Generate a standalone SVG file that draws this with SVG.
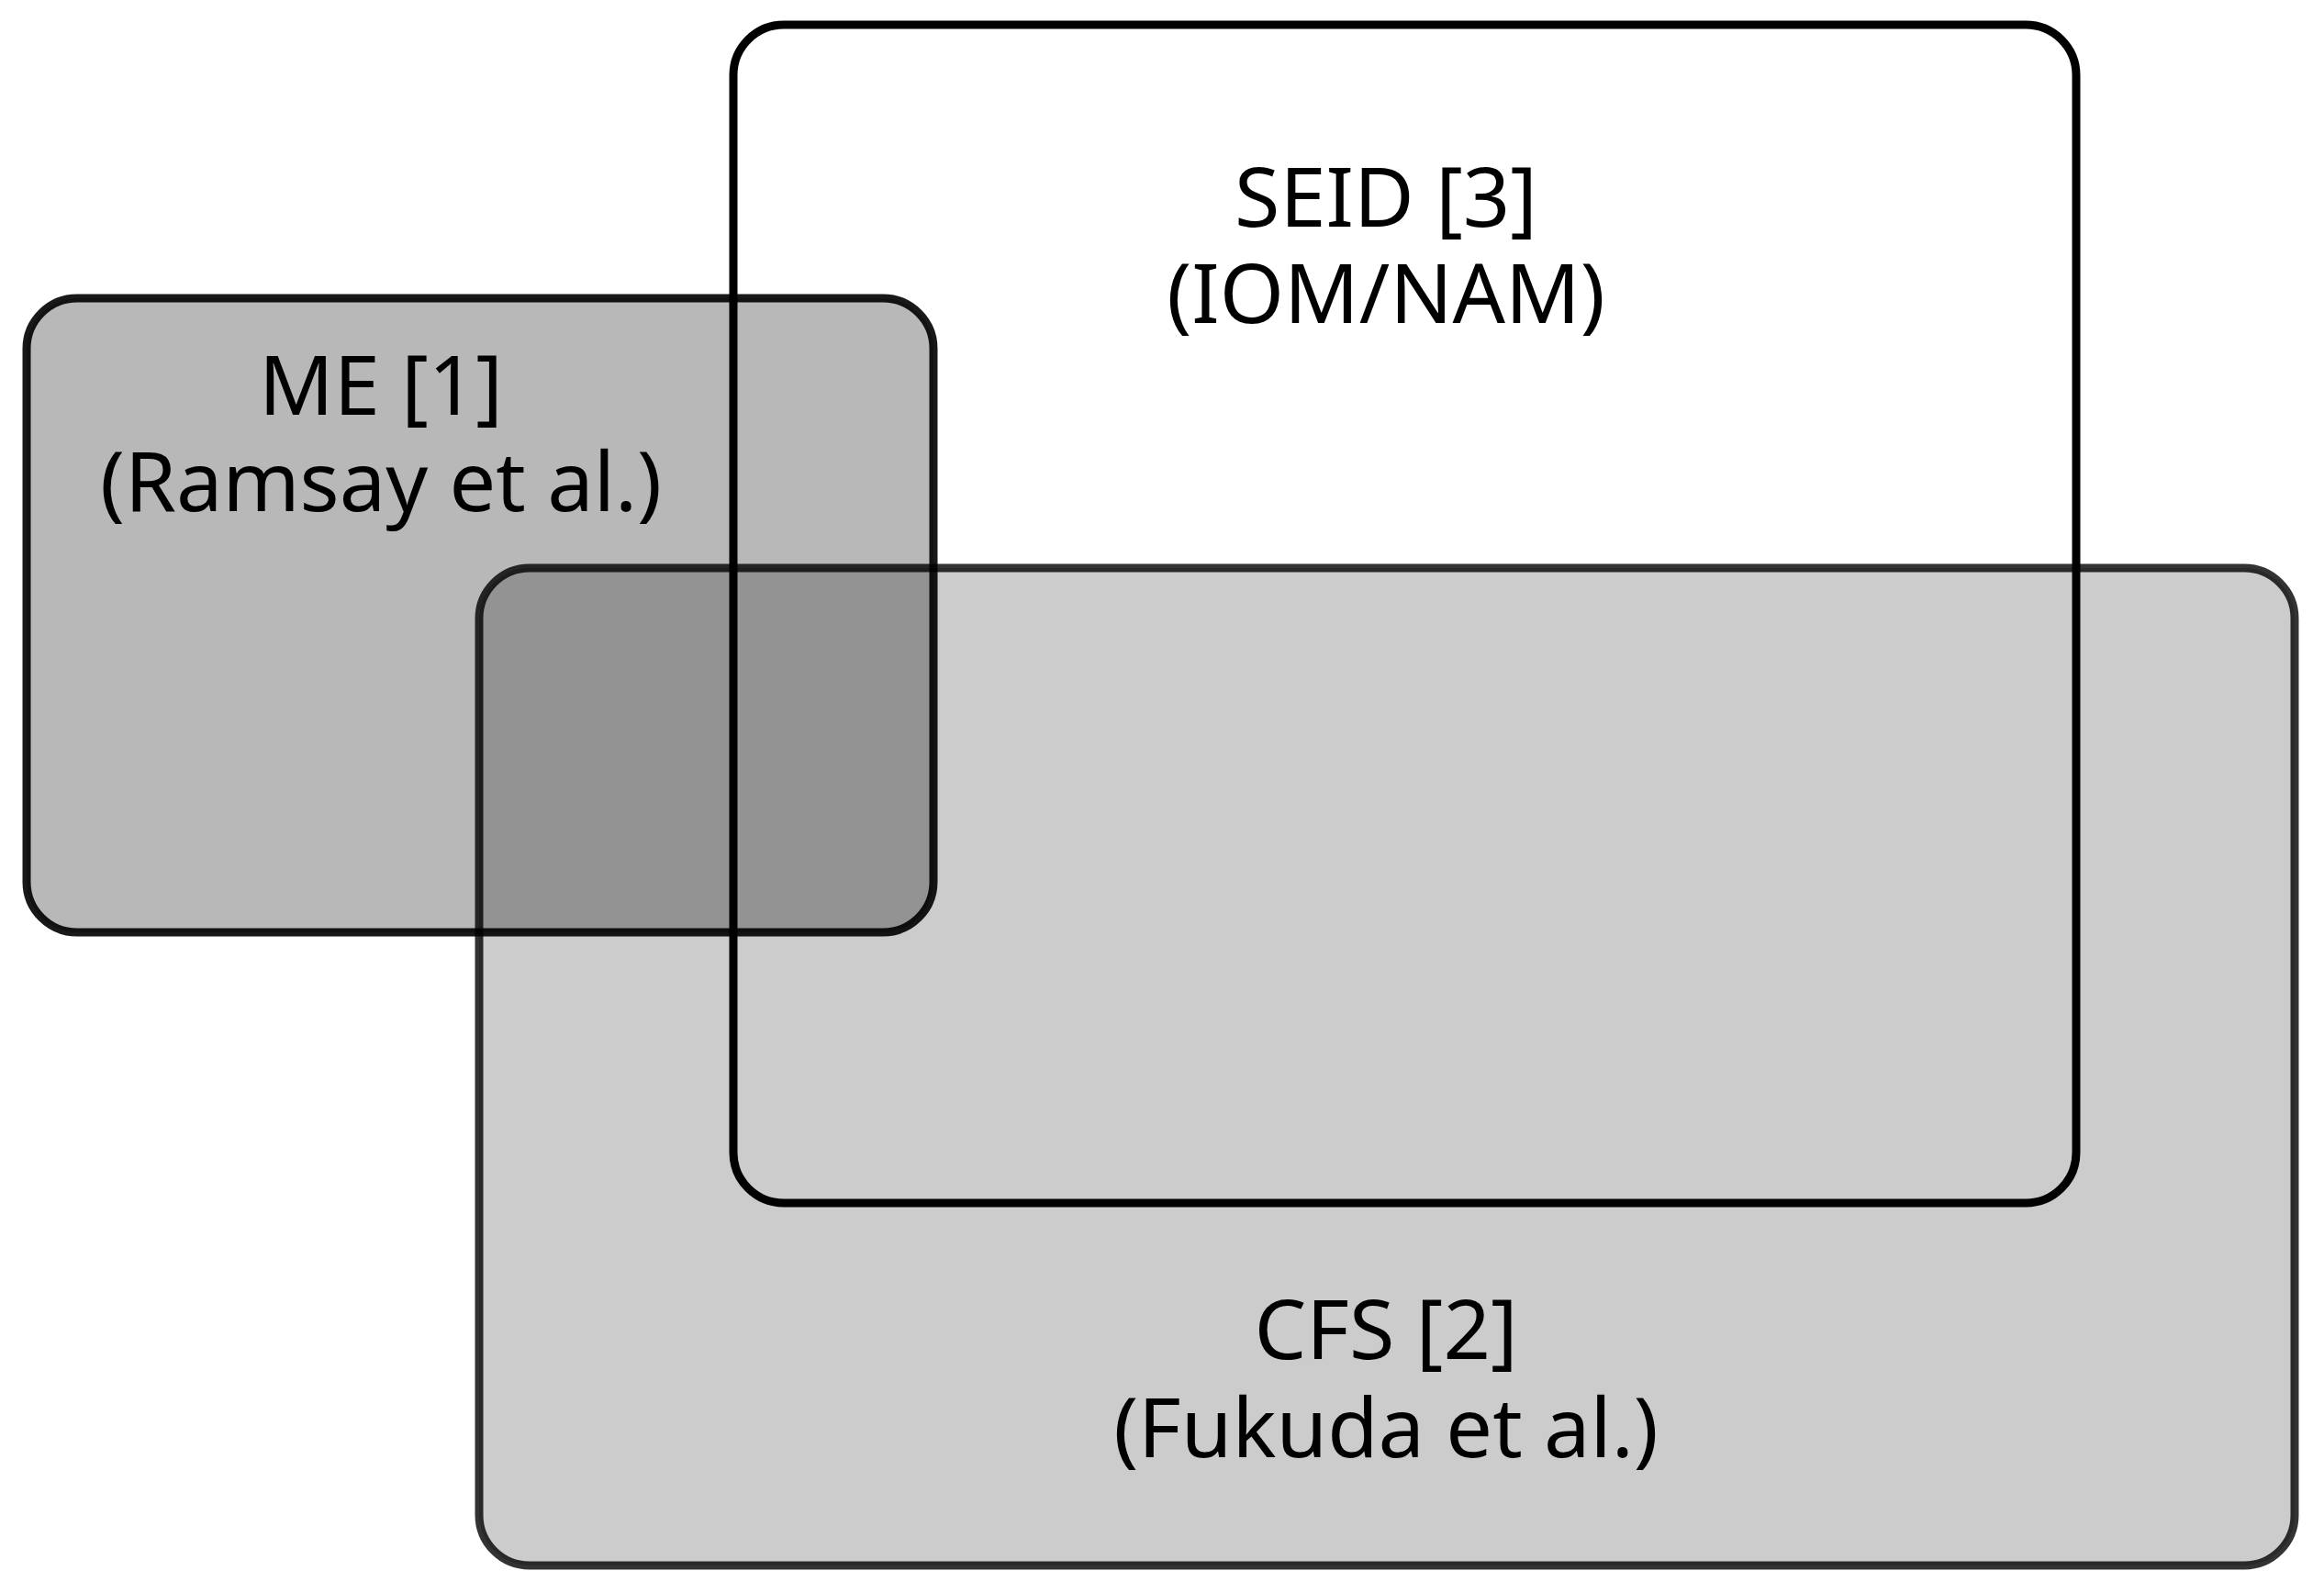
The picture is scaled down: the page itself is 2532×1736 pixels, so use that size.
<svg xmlns="http://www.w3.org/2000/svg" width="2532" height="1736" viewBox="0 0 2532 1736">
<style>
.b{stroke:#000;stroke-width:9}
text{font-family:"Noto Sans","Open Sans",sans-serif;font-size:90px;text-anchor:middle;fill:#000}
</style>
<rect width="2532" height="1736" fill="#fff"/>
<g id="seid"><rect class="b" x="799" y="27" width="1463" height="1284" rx="55" fill="#fff"/>
<text x="1510" y="247">SEID [3]</text><text x="1510" y="352">(IOM/NAM)</text></g>
<g id="cfs"><rect class="b" x="522" y="619" width="1978" height="1087" rx="55" fill="#000" fill-opacity="0.2" stroke-opacity="0.8"/>
<text x="1510" y="1481">CFS [2]</text><text x="1510" y="1588">(Fukuda et al.)</text></g>
<g id="me"><rect class="b" x="29" y="325" width="988" height="691" rx="55" fill="#000" fill-opacity="0.28" stroke-opacity="0.9"/>
<text x="415" y="452">ME [1]</text><text x="415" y="557">(Ramsay et al.)</text></g>
<g id="connectors"/>
</svg>
